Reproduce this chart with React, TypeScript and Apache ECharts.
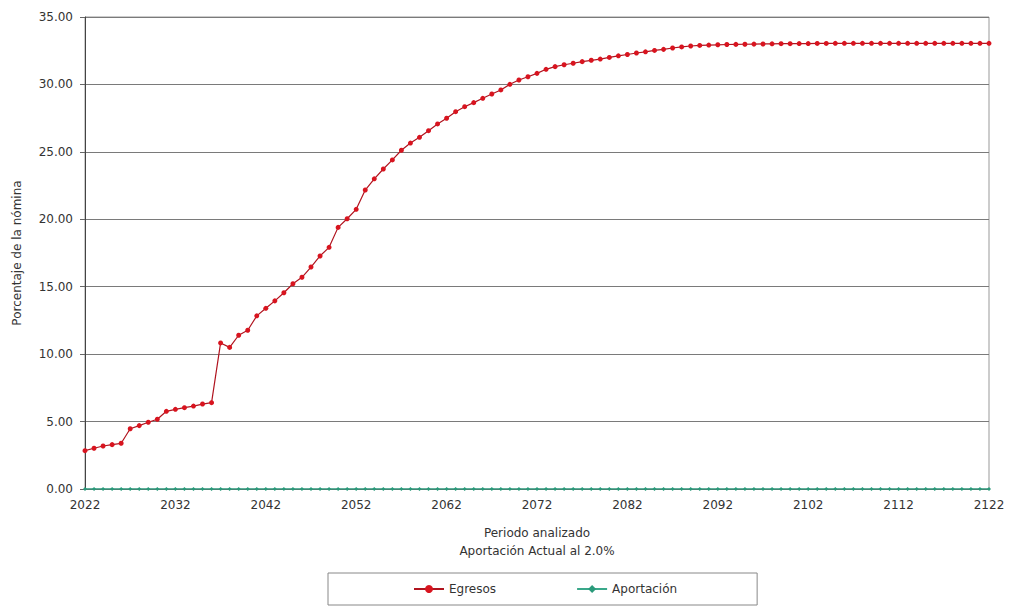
import React, { useEffect, useRef } from "react";
import * as echarts from "echarts";

const years: string[] = [
  "2022","2023","2024","2025","2026","2027","2028","2029","2030","2031",
  "2032","2033","2034","2035","2036","2037","2038","2039","2040","2041",
  "2042","2043","2044","2045","2046","2047","2048","2049","2050","2051",
  "2052","2053","2054","2055","2056","2057","2058","2059","2060","2061",
  "2062","2063","2064","2065","2066","2067","2068","2069","2070","2071",
  "2072","2073","2074","2075","2076","2077","2078","2079","2080","2081",
  "2082","2083","2084","2085","2086","2087","2088","2089","2090","2091",
  "2092","2093","2094","2095","2096","2097","2098","2099","2100","2101",
  "2102","2103","2104","2105","2106","2107","2108","2109","2110","2111",
  "2112","2113","2114","2115","2116","2117","2118","2119","2120","2121",
  "2122",
];

const egresos: number[] = [
  2.84, 3.02, 3.19, 3.29, 3.39, 4.47, 4.7, 4.95, 5.17, 5.76,
  5.91, 6.03, 6.15, 6.3, 6.4, 10.83, 10.5, 11.4, 11.77, 12.84,
  13.4, 13.95, 14.55, 15.22, 15.7, 16.46, 17.28, 17.92, 19.4, 20.04,
  20.74, 22.17, 23.0, 23.73, 24.4, 25.12, 25.65, 26.08, 26.57, 27.07,
  27.49, 27.98, 28.35, 28.65, 28.97, 29.29, 29.59, 30.01, 30.33, 30.57,
  30.82, 31.12, 31.32, 31.46, 31.57, 31.69, 31.79, 31.88, 32.0, 32.12,
  32.22, 32.33, 32.42, 32.52, 32.6, 32.7, 32.78, 32.85, 32.89, 32.92,
  32.94, 32.96, 32.97, 32.98, 32.99, 33.0, 33.01, 33.02, 33.02, 33.03,
  33.03, 33.04, 33.04, 33.05, 33.05, 33.05, 33.05, 33.05, 33.05, 33.05,
  33.05, 33.05, 33.05, 33.05, 33.05, 33.05, 33.05, 33.05, 33.05, 33.05,
  33.05,
];

const aportacion: number[] = [
  0, 0, 0, 0, 0, 0, 0, 0, 0, 0,
  0, 0, 0, 0, 0, 0, 0, 0, 0, 0,
  0, 0, 0, 0, 0, 0, 0, 0, 0, 0,
  0, 0, 0, 0, 0, 0, 0, 0, 0, 0,
  0, 0, 0, 0, 0, 0, 0, 0, 0, 0,
  0, 0, 0, 0, 0, 0, 0, 0, 0, 0,
  0, 0, 0, 0, 0, 0, 0, 0, 0, 0,
  0, 0, 0, 0, 0, 0, 0, 0, 0, 0,
  0, 0, 0, 0, 0, 0, 0, 0, 0, 0,
  0, 0, 0, 0, 0, 0, 0, 0, 0, 0,
  0,
];

const FONT = "DejaVu Sans";

export default function App() {
  const ref = useRef<HTMLDivElement>(null);
  useEffect(() => {
    if (!ref.current) return;
    const chart = echarts.init(ref.current, undefined, { renderer: "svg" });
    chart.setOption({
      animation: false,
      backgroundColor: "#ffffff",
      textStyle: { fontFamily: FONT, color: "#333" },
      grid: {
        left: 85,
        right: 21,
        top: 17,
        bottom: 118,
        show: true,
        borderColor: "#999",
        borderWidth: 1,
      },
      xAxis: {
        type: "category",
        data: years,
        boundaryGap: false,
        axisLine: { show: true, lineStyle: { color: "#555" } },
        axisTick: { show: false },
        axisLabel: {
          interval: 9,
          fontFamily: FONT,
          fontSize: 12,
          color: "#333",
          margin: 10,
        },
        splitLine: { show: false },
      },
      yAxis: {
        type: "value",
        min: 0,
        max: 35,
        interval: 5,
        name: "Porcentaje de la nómina",
        nameLocation: "middle",
        nameGap: 62,
        nameTextStyle: { fontFamily: FONT, fontSize: 12, color: "#333" },
        axisLine: { show: true, lineStyle: { color: "#444" } },
        axisTick: { show: true, length: 5, lineStyle: { color: "#666" } },
        axisLabel: {
          fontFamily: FONT,
          fontSize: 12,
          color: "#333",
          margin: 12,
          formatter: (v: number) => v.toFixed(2),
        },
        splitLine: { show: true, lineStyle: { color: "#7a7a7a", width: 1 } },
      },
      legend: {
        left: 328,
        top: 573,
        orient: "horizontal",
        borderColor: "#888",
        borderWidth: 1,
        padding: [10, 80, 10, 85],
        itemGap: 80,
        itemWidth: 30,
        itemHeight: 10,
        textStyle: { fontFamily: FONT, fontSize: 12, color: "#333" },
        data: ["Egresos", "Aportación"],
      },
      graphic: [
        {
          type: "text",
          x: 537,
          y: 524,
          style: {
            text: "Periodo analizado\nAportación Actual al 2.0%",
            fontFamily: FONT,
            fontSize: 12,
            fill: "#333",
            textAlign: "center",
            lineHeight: 18,
          },
        },
      ],
      series: [
        {
          name: "Egresos",
          type: "line",
          data: egresos,
          symbol: "circle",
          symbolSize: 5,
          lineStyle: { color: "#b0141f", width: 1.2 },
          itemStyle: { color: "#d8141f" },
          z: 3,
        },
        {
          name: "Aportación",
          type: "line",
          data: aportacion,
          symbol: "diamond",
          symbolSize: 4,
          lineStyle: { color: "#3aa88a", width: 1.5 },
          itemStyle: { color: "#2a9a7a" },
          z: 2,
        },
      ],
    });
    return () => chart.dispose();
  }, []);
  return <div ref={ref} style={{ width: 1010, height: 607, position: "absolute", left: 0, top: 0 }} />;
}
